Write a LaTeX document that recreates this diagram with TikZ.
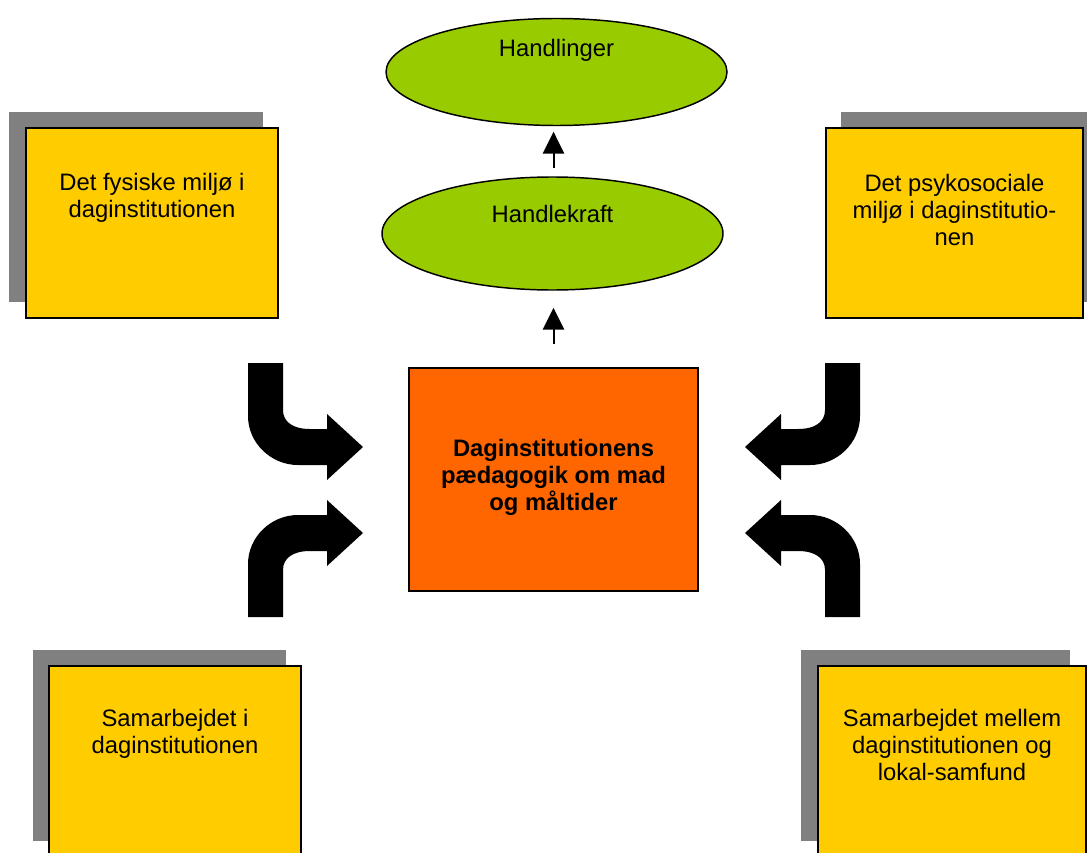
\documentclass[tikz,border=0pt]{standalone}
\usepackage{fontspec}
\setmainfont{Liberation Sans}
\usetikzlibrary{arrows.meta,shapes.geometric}
\definecolor{boxyellow}{HTML}{FFCC00}
\definecolor{boxorange}{HTML}{FF6600}
\definecolor{ellgreen}{HTML}{99CC00}
\definecolor{shadowgray}{HTML}{808080}
\begin{document}
\begin{tikzpicture}[x=0.75pt,y=-0.75pt,
  ybox/.style={draw=black, line width=1.5pt, fill=boxyellow, inner sep=0pt},
  obox/.style={draw=black, line width=1.5pt, fill=boxorange, inner sep=0pt},
  gell/.style={ellipse, draw=black, line width=1.1pt, fill=ellgreen, inner sep=0pt},
  txt/.style={font=\fontsize{17.85pt}{20.25pt}\selectfont, align=center, inner sep=0pt},
  btxt/.style={txt, font=\fontsize{17.85pt}{20.25pt}\selectfont\bfseries},
  smallarrow/.style={line width=1.5pt, -{Triangle[length=16.5pt,width=16pt]}},
  shadowfill/.style={fill=shadowgray, draw=none}
]
\useasboundingbox (0,0) rectangle (1087,852);
\clip (0,0) rectangle (1087,852);

% shadows
\fill[shadowfill] (9,112) rectangle (263,302);
\fill[shadowfill] (841,112) rectangle (1098,302);
\fill[shadowfill] (33,650) rectangle (286,841);
\fill[shadowfill] (801,650) rectangle (1070,841);

% boxes
\node[ybox, minimum width=189pt, minimum height=142.5pt] (tl) at (152,223) {};
\node[ybox, minimum width=192.75pt, minimum height=142.5pt] (tr) at (954.5,223) {};
\node[ybox, minimum width=189pt, minimum height=142.5pt] (bl) at (175,761) {};
\node[ybox, minimum width=201pt, minimum height=142.5pt] (br) at (952,761) {};
\node[obox, minimum width=216.75pt, minimum height=167.25pt] (ctr) at (553.5,479.5) {};

% ellipses
\node[gell, minimum width=255.75pt, minimum height=80.25pt] (hl) at (556.5,72) {};
\node[gell, minimum width=255.75pt, minimum height=84.75pt] (hk) at (552.5,233.5) {};

% texts
\node[txt] (tlt) at (152,198) {Det fysiske miljø i\\daginstitutionen};
\node[txt] (trt) at (954.5,209.5) {Det psykosociale\\miljø i daginstitutio-\\nen};
\node[txt] (blt) at (175,733.5) {Samarbejdet i\\daginstitutionen};
\node[txt] (brt) at (952,744.5) {Samarbejdet mellem\\daginstitutionen og\\lokal-samfund};
\node[btxt] (ctrt) at (553.5,477) {Daginstitutionens\\pædagogik om mad\\og måltider};
\node[txt, anchor=base] (hlt) at (556.5,57) {Handlinger};
\node[txt, anchor=base] (hkt) at (552.5,223) {Handlekraft};

% small arrows (vertical, on the axis of the centre box)
\draw[smallarrow, shorten <=17.25pt, shorten >=12.75pt] (ctr.north) -- (ctr.north |- hk.south);
\draw[smallarrow, shorten <=6pt, shorten >=4.1pt] (hk.north -| ctr.north) -- (hl.south -| ctr.north);

% bent block arrows
\foreach \sx/\sy in {1/1,-1/1,1/-1,-1/-1}{
\begin{scope}[shift={(554,490)}, xscale=\sx, yscale=\sy]
\fill[black] (-306,-127) -- (-271,-127) -- (-271,-80)
  .. controls (-271,-68) and (-261,-61) .. (-244,-61)
  -- (-227,-61) -- (-227,-76) -- (-191,-43) -- (-227,-10) -- (-227,-25)
  -- (-256,-25) .. controls (-283,-25) and (-306,-47) .. (-306,-74) -- cycle;
\end{scope}
}
\end{tikzpicture}
\end{document}
